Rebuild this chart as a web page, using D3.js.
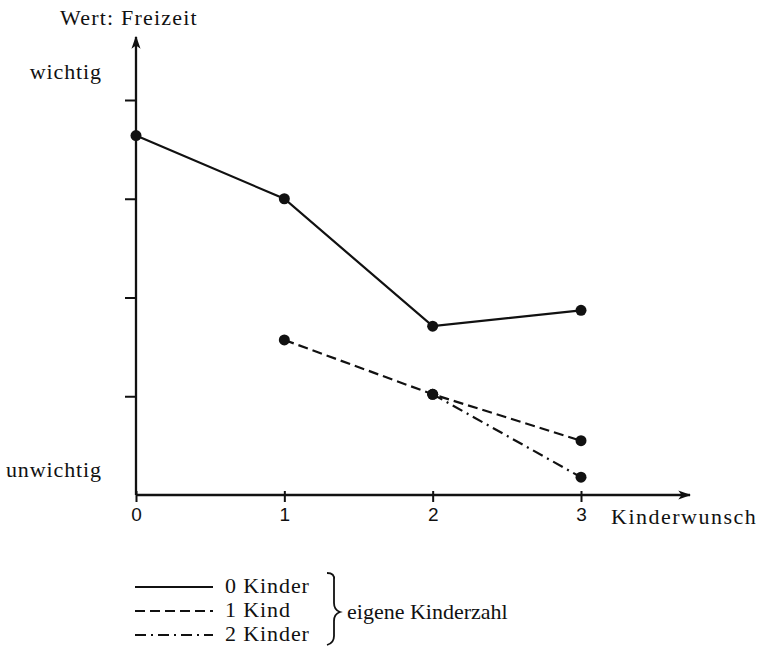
<!DOCTYPE html>
<html>
<head>
<meta charset="utf-8">
<script src="https://cdn.jsdelivr.net/npm/d3@7"></script>
<style>
  body { margin: 0; background: #fff; }
  svg text { font-family: "Liberation Serif", "DejaVu Serif", serif; fill: #111; }
</style>
</head>
<body>
<div id="chart"></div>
<script>
// Kinderwunsch (x) vs. Wert: Freizeit (y, 0 = unwichtig .. 4 = wichtig)
const xTicks = [0, 1, 2, 3];
const yTicks = [1, 2, 3, 4];
const seriesNames = ['0 Kinder', '1 Kind', '2 Kinder'];
const kinder0 = [[0, 3.64], [1, 3.0], [2, 1.71], [3, 1.87]];
const kinder1 = [[1, 1.57], [2, 1.02], [3, 0.55]];
const kinder2 = [[2, 1.02], [3, 0.18]];
const dashes = ['none', '10,5', '11,5,2,5'];

const width = 763, height = 646;
const svg = d3.select('#chart').append('svg').attr('width', width).attr('height', height);

const x = d3.scaleLinear().domain([0, 3]).range([136, 581]);
const y = d3.scaleLinear().domain([0, 4]).range([495, 100]);

// arrow head
svg.append('defs').append('marker')
  .attr('id', 'arrow').attr('viewBox', '0 0 10 10')
  .attr('refX', 9).attr('refY', 5)
  .attr('markerWidth', 13).attr('markerHeight', 13)
  .attr('markerUnits', 'userSpaceOnUse')
  .attr('orient', 'auto')
  .append('path').attr('d', 'M0,1.5 L10,5 L0,8.5 L2.5,5 Z').attr('fill', '#111');

// y axis ticks
const yAxis = d3.axisLeft(y).tickValues(yTicks).tickSize(11).tickFormat('');
svg.append('g').attr('transform', `translate(${x(0)},0)`).call(yAxis)
  .call(g => g.select('.domain').remove())
  .selectAll('line').attr('stroke', '#111').attr('stroke-width', 2);

// x axis ticks + labels
const xAxis = d3.axisBottom(x).tickValues(xTicks).tickSize(11).tickPadding(6).tickFormat(d => d);
const gx = svg.append('g').attr('transform', `translate(0,${y(0) - 4})`).call(xAxis)
  .call(g => g.select('.domain').remove());
gx.selectAll('line').attr('stroke', '#111').attr('stroke-width', 2);
gx.selectAll('text').style('font-family', '"Liberation Sans", sans-serif').style('font-size', '19px').attr('fill', '#111');

// axis lines with arrows
svg.append('line').attr('x1', x(0)).attr('y1', y(0)).attr('x2', x(0)).attr('y2', 37)
  .attr('stroke', '#111').attr('stroke-width', 2.3).attr('marker-end', 'url(#arrow)');
svg.append('line').attr('x1', x(0)).attr('y1', y(0)).attr('x2', 690).attr('y2', y(0))
  .attr('stroke', '#111').attr('stroke-width', 2.3).attr('marker-end', 'url(#arrow)');

// axis titles
const fs = '22px';
const label = (tx, ty, anchor, txt, ls = '0.9px') => svg.append('text').attr('x', tx).attr('y', ty)
  .attr('text-anchor', anchor).style('font-size', fs).style('letter-spacing', ls).text(txt);
label(60, 25, 'start', 'Wert: Freizeit', '1.2px');
label(102, 79, 'end', 'wichtig');
label(102, 477, 'end', 'unwichtig');
label(611, 524, 'start', 'Kinderwunsch', '1.5px');

// lines and points
const line = d3.line().x(d => x(d[0])).y(d => y(d[1]));
[kinder0, kinder1, kinder2].forEach((s, i) => {
  svg.append('path').datum(s).attr('d', line)
    .attr('fill', 'none').attr('stroke', '#111').attr('stroke-width', 2.2)
    .attr('stroke-dasharray', dashes[i]);
  svg.append('g').selectAll('circle').data(s).join('circle')
    .attr('cx', d => x(d[0])).attr('cy', d => y(d[1])).attr('r', 5.5).attr('fill', '#111');
});

// legend
const legY = [587, 611, 635];
const leg = svg.append('g');
seriesNames.forEach((name, i) => {
  leg.append('line').attr('x1', 135).attr('x2', 213).attr('y1', legY[i]).attr('y2', legY[i])
    .attr('stroke', '#111').attr('stroke-width', 1.8).attr('stroke-dasharray', dashes[i]);
  label(225, legY[i] + 6, 'start', name);
});
// brace
leg.append('path')
  .attr('d', 'M327,573 Q335,573 334,580 L334,603 Q334,610 340,612 Q334,614 334,621 L334,636 Q334,643 327,645')
  .attr('fill', 'none').attr('stroke', '#111').attr('stroke-width', 1.8);
label(347, 619, 'start', 'eigene Kinderzahl', '0px');
</script>
</body>
</html>
